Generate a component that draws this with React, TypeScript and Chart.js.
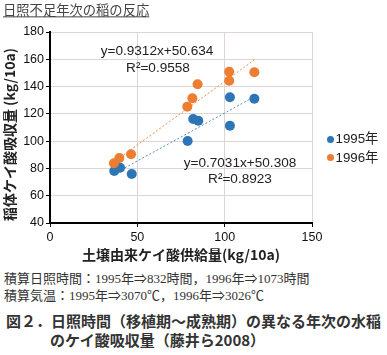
import React, { useEffect, useRef } from "react";
import { Chart, registerables } from "chart.js";

Chart.register(...registerables);

// ---- data ----
const seriesLabels = ["1995年", "1996年"];
const soil1995 = [36.8, 40.1, 46.8, 78.8, 82.0, 84.9, 103.0, 103.0, 117.0];
const uptake1995 = [78.1, 80.5, 75.9, 100.1, 116.2, 115.0, 132.2, 111.3, 131.1];
const soil1996 = [36.6, 39.7, 46.4, 78.6, 81.5, 84.5, 102.6, 102.6, 117.0];
const uptake1996 = [83.8, 87.7, 90.4, 125.3, 131.4, 141.7, 150.9, 144.3, 150.5];
const trendSlopes = [0.7031, 0.9312];
const trendIntercepts = [50.308, 50.634];
const trendLabels = ["y=0.7031x+50.308", "y=0.9312x+50.634"];
const r2Labels = ["R²=0.8923", "R²=0.9558"];
const xTickValues = [0, 50, 100, 150];
const yTickValues = [40, 60, 80, 100, 120, 140, 160, 180];
const xTitle = "土壌由来ケイ酸供給量(kg/10a)";
const yTitle = "稲体ケイ酸吸収量 (kg/10a)";

const BLUE = "#2E75B6";
const ORANGE = "#ED7D31";
const GRID = "#ddd4d4";
const SANS = "'Liberation Sans', Arial, 'Noto Sans CJK JP', sans-serif";
const CJK = "'Noto Sans CJK JP', 'Liberation Sans', sans-serif";
const SERIF = "'Liberation Serif', 'Noto Sans CJK JP', serif";

function trendPoints(xs: number[], k: number) {
  const lo = Math.min(...xs);
  const hi = Math.max(...xs);
  return [
    { x: lo, y: trendSlopes[k] * lo + trendIntercepts[k] },
    { x: hi, y: trendSlopes[k] * hi + trendIntercepts[k] },
  ];
}

function Txt(props: { x: number; y: number; size: number; family: string; children: any; center?: boolean; weight?: any; color?: string; underline?: boolean }) {
  const { x, y, size, family, center, weight, color, underline } = props;
  return (
    <div
      style={{
        position: "absolute",
        left: x,
        top: y,
        transform: center ? "translate(-50%, -50%)" : "translate(0, -50%)",
        fontSize: size,
        lineHeight: `${size + 4}px`,
        fontFamily: family,
        fontWeight: weight || "normal",
        color: color || "#222",
        whiteSpace: "nowrap",
        textDecoration: underline ? "underline" : "none",
      }}
    >
      {props.children}
    </div>
  );
}

export default function App() {
  const ref = useRef<HTMLCanvasElement | null>(null);

  useEffect(() => {
    if (!ref.current) return;
    const chart = new Chart(ref.current, {
      type: "scatter",
      data: {
        datasets: [
          {
            label: seriesLabels[0],
            data: soil1995.map((x, i) => ({ x, y: uptake1995[i] })),
            backgroundColor: BLUE,
            borderColor: BLUE,
            pointRadius: 5,
            pointBorderWidth: 0,
            order: 1,
          },
          {
            label: seriesLabels[1],
            data: soil1996.map((x, i) => ({ x, y: uptake1996[i] })),
            backgroundColor: ORANGE,
            borderColor: ORANGE,
            pointRadius: 5,
            pointBorderWidth: 0,
            order: 0,
          },
          {
            type: "line",
            label: "trend1995",
            data: trendPoints(soil1995, 0),
            borderColor: "rgba(46,117,182,0.8)",
            borderWidth: 1,
            borderDash: [2, 2],
            pointRadius: 0,
            fill: false,
            order: 3,
          } as any,
          {
            type: "line",
            label: "trend1996",
            data: trendPoints(soil1996, 1),
            borderColor: "rgba(237,125,49,0.85)",
            borderWidth: 1,
            borderDash: [2, 2],
            pointRadius: 0,
            fill: false,
            order: 2,
          } as any,
        ],
      },
      options: {
        animation: false,
        responsive: false,
        maintainAspectRatio: false,
        layout: { padding: { top: 32, right: 75, left: 0, bottom: 0 } },
        plugins: { legend: { display: false }, tooltip: { enabled: false } },
        scales: {
          x: {
            type: "linear",
            min: 0,
            max: 150,
            afterBuildTicks: (s: any) => {
              s.ticks = xTickValues.map((v) => ({ value: v }));
            },
            afterFit: (s: any) => {
              s.height = 42;
            },
            grid: { color: GRID, tickColor: "#000", tickLength: 4, lineWidth: 1 },
            border: { color: "#000", width: 2 },
            ticks: { padding: 3, color: "#111", font: { family: SANS, size: 12.5 } },
            title: {
              display: true,
              text: xTitle,
              color: "#222",
              font: { family: CJK, size: 14, weight: "bold" },
              padding: { top: 4, bottom: 2 },
            },
          },
          y: {
            type: "linear",
            min: 40,
            max: 180,
            afterBuildTicks: (s: any) => {
              s.ticks = yTickValues.map((v) => ({ value: v }));
            },
            afterFit: (s: any) => {
              s.width = 50;
            },
            grid: { color: GRID, tickColor: "#000", tickLength: 4, lineWidth: 1 },
            border: { color: "#000", width: 2 },
            ticks: { padding: 2, color: "#111", font: { family: SANS, size: 12.5 } },
            title: {
              display: true,
              text: yTitle + "\u3000",
              color: "#222",
              font: { family: CJK, size: 14, weight: "bold" },
              padding: { top: 1, bottom: 4 },
            },
          },
        },
      } as any,
    });
    return () => chart.destroy();
  }, []);

  return (
    <div style={{ position: "fixed", left: 0, top: 0, width: 387, height: 355, background: "#fff", overflow: "hidden" }}>
      <canvas ref={ref} width={387} height={265} style={{ position: "absolute", left: 0, top: 0, display: "block" }} />
      <Txt x={3} y={10.5} size={13.3} family={SERIF} color="#444" underline>
        日照不足年次の稲の反応
      </Txt>
      <Txt x={157} y={51} size={13.6} family={SANS} center>{trendLabels[1]}</Txt>
      <Txt x={158} y={67.5} size={13.6} family={SANS} center>{r2Labels[1]}</Txt>
      <Txt x={240} y={162.7} size={13.6} family={SANS} center>{trendLabels[0]}</Txt>
      <Txt x={240} y={179.3} size={13.6} family={SANS} center>{r2Labels[0]}</Txt>
      {/* legend */}
      {seriesLabels.map((lab, i) => (
        <div key={lab} style={{ position: "absolute", left: 326.5, top: 139.3 + i * 18.4, transform: "translate(0,-50%)", display: "flex", alignItems: "center" }}>
          <span style={{ display: "inline-block", width: 7, height: 7, borderRadius: "50%", background: i === 0 ? BLUE : ORANGE, marginRight: 2 }} />
          <span style={{ fontFamily: SANS, fontSize: 13.3, lineHeight: "16px", color: "#222" }}>{lab}</span>
        </div>
      ))}
      <Txt x={4} y={277.5} size={13} family={SERIF} color="#333">
        積算日照時間：1995年⇒832時間，1996年⇒1073時間
      </Txt>
      <Txt x={4} y={294.7} size={13} family={SERIF} color="#333">
        積算気温：1995年⇒3070℃，1996年⇒3026℃
      </Txt>
      <Txt x={6} y={320} size={15} family={CJK} weight="bold" color="#333">
        図２．日照時間（移植期～成熟期）の異なる年次の水稲
      </Txt>
      <Txt x={50} y={338.5} size={15} family={CJK} weight="bold" color="#333">
        のケイ酸吸収量（藤井ら2008）
      </Txt>
    </div>
  );
}
